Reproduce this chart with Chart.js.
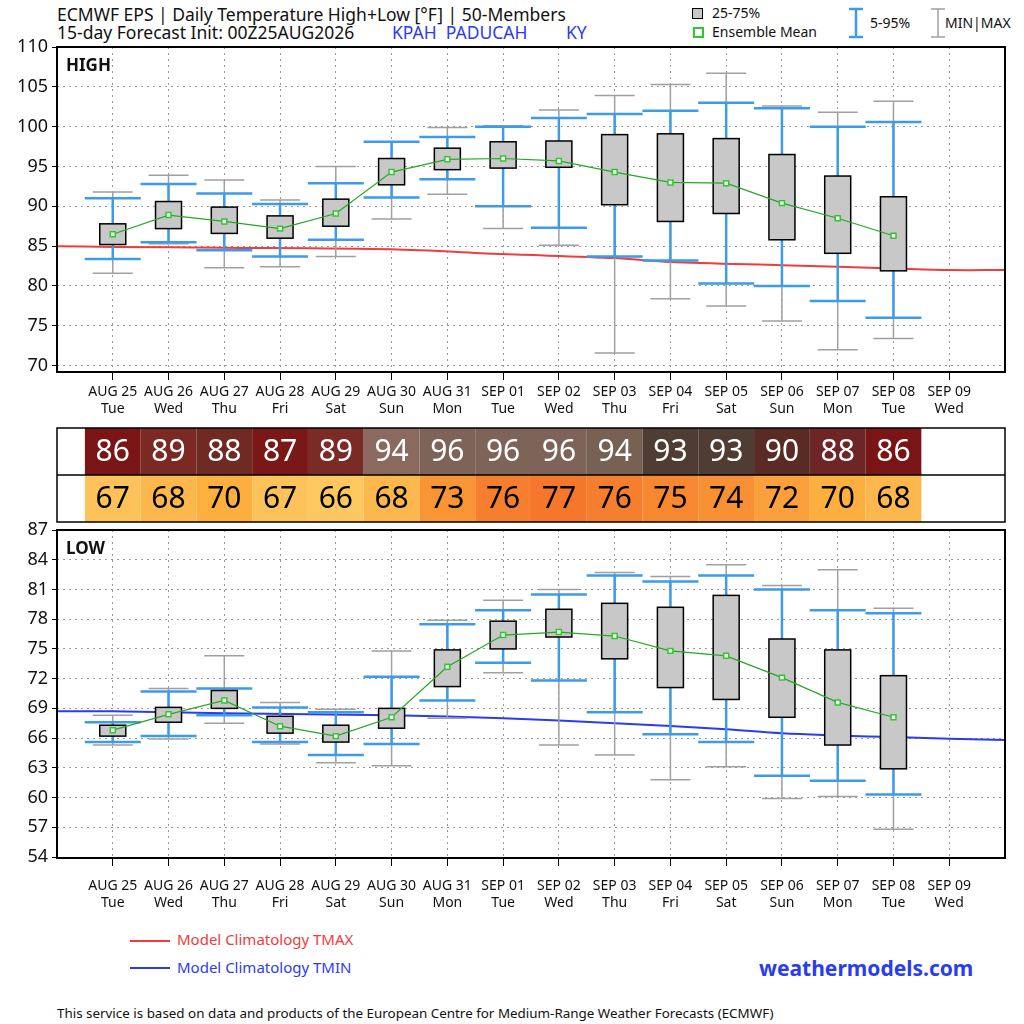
<!DOCTYPE html>
<html><head><meta charset="utf-8">
<script src="https://cdn.jsdelivr.net/npm/chart.js@4.4.1/dist/chart.umd.min.js"></script>
<style>
body{margin:0;background:#fff;font-family:"Noto Sans",sans-serif;}
#wrap{position:relative;width:1024px;height:1024px;overflow:hidden;}
canvas{position:absolute;left:0;}
.t{position:absolute;white-space:nowrap;color:#111;}
</style></head><body><div id="wrap">
<div class="t" style="left:57px;top:2px;font-size:17.5px">ECMWF EPS | Daily Temperature High+Low [°F] | 50-Members</div>
<div class="t" style="left:57px;top:20px;font-size:17.5px">15-day Forecast Init: 00Z25AUG2026</div>
<div class="t" style="left:392px;top:20px;font-size:17.5px;color:#2a3cf0">KPAH&nbsp; PADUCAH</div>
<div class="t" style="left:566px;top:20px;font-size:17.5px;color:#2a3cf0">KY</div>
<div style="position:absolute;left:692px;top:8px;width:9px;height:9px;background:#c8c8c8;border:1.5px solid #000"></div>
<div class="t" style="left:712px;top:3px;font-size:14px">25-75%</div>
<div style="position:absolute;left:693px;top:27px;width:7px;height:7px;border:2px solid #2ec82e;background:#fff"></div>
<div class="t" style="left:712px;top:22px;font-size:14px">Ensemble Mean</div>
<div class="t" style="left:870px;top:13px;font-size:14px">5-95%</div>
<div class="t" style="left:945px;top:13px;font-size:14px">MIN|MAX</div>
<canvas id="icons" width="1024" height="45" style="top:0"></canvas>
<canvas id="high" width="1024" height="388" style="top:32px"></canvas>
<canvas id="mid" width="1024" height="100" style="top:425px"></canvas>
<canvas id="low" width="1024" height="400" style="top:515px"></canvas>
<div class="t" style="left:177px;top:929px;font-size:15px;color:#f03c3c">Model Climatology TMAX</div>
<div class="t" style="left:177px;top:957px;font-size:15px;color:#2a3cf0">Model Climatology TMIN</div>
<div style="position:absolute;left:130px;top:940px;width:40px;height:2px;background:#f03c3c"></div>
<div style="position:absolute;left:130px;top:967px;width:40px;height:2px;background:#2a3cf0"></div>
<div class="t" style="left:759px;top:954px;font-size:21px;font-weight:bold;color:#2a3cf0">weathermodels.com</div>
<div class="t" style="left:57px;top:1004px;font-size:13.4px">This service is based on data and products of the European Centre for Medium-Range Weather Forecasts (ECMWF)</div>
</div>
<script>
const dates = ["AUG 25","AUG 26","AUG 27","AUG 28","AUG 29","AUG 30","AUG 31","SEP 01","SEP 02","SEP 03","SEP 04","SEP 05","SEP 06","SEP 07","SEP 08","SEP 09"];
const days = ["Tue","Wed","Thu","Fri","Sat","Sun","Mon","Tue","Wed","Thu","Fri","Sat","Sun","Mon","Tue","Wed"];

const highMin  = [81.6,85.3,82.3,82.4,83.7,88.4,91.5,87.2,85.1,71.6,78.4,77.5,75.6,72.0,73.4];
const highP5   = [83.4,85.5,84.5,83.7,85.8,91.1,93.4,90.0,87.3,83.7,83.2,80.3,80.0,78.1,76.0];
const highQ1   = [85.2,87.2,86.6,86.0,87.5,92.7,94.6,94.8,94.9,90.2,88.1,89.1,85.8,84.1,81.9];
const highMean = [86.5,88.9,88.1,87.2,89.1,94.3,95.9,96.0,95.7,94.3,93.0,92.9,90.4,88.5,86.3];
const highQ3   = [87.8,90.6,89.9,88.8,90.9,96.0,97.3,98.1,98.2,99.0,99.1,98.5,96.5,93.8,91.2];
const highP95  = [91.0,92.8,91.6,90.3,92.9,98.1,98.7,100.0,101.1,101.6,102.0,103.0,102.3,100.0,100.6];
const highMax  = [91.8,93.9,93.3,90.8,95.0,98.1,99.9,100.1,102.1,103.9,105.3,106.7,102.6,101.8,103.2];
const climMaxX = [-1,0,2,5,7,9,10,12,14,15,16];
const climMax  = [85.0,84.9,84.8,84.6,84.0,83.5,83.0,82.6,82.2,82.0,82.0];

const lowMin  = [65.3,65.9,67.5,65.4,63.5,63.2,68.0,72.6,65.3,64.3,61.8,63.1,59.9,60.1,56.8];
const lowP5   = [65.6,66.2,68.3,65.6,64.3,65.4,69.8,73.6,71.8,68.6,66.4,65.6,62.2,61.7,60.3];
const lowQ1   = [66.2,67.6,69.0,66.5,65.6,67.0,71.2,75.0,76.2,74.0,71.1,69.9,68.1,65.3,62.9];
const lowMean = [66.8,68.4,69.8,67.2,66.2,68.1,73.2,76.4,76.7,76.3,74.8,74.3,72.1,69.6,68.1];
const lowQ3   = [67.3,69.1,70.8,68.2,67.3,69.0,74.9,77.8,79.0,79.6,79.2,80.4,76.0,74.9,72.3];
const lowP95  = [67.6,70.7,71.0,69.1,68.6,72.2,77.5,78.9,80.5,82.4,81.8,82.4,81.0,78.9,78.6];
const lowMax  = [68.3,71.0,74.3,69.6,68.9,74.8,77.9,79.9,81.0,82.7,82.3,83.5,81.4,83.0,79.1];
const climMinX = [-1,0,2,5,7,9,11,12,14,16];
const climMin  = [68.7,68.7,68.5,68.3,68.0,67.5,66.9,66.5,66.1,65.8];

const tableHigh = [86,89,88,87,89,94,96,96,96,94,93,93,90,88,86];
const tableLow  = [67,68,70,67,66,68,73,76,77,76,75,74,72,70,68];
const highColors = ["#7a1515","#7a2a22","#6f2a24","#7a1717","#7a2b26","#8a6a5e","#7d6358","#7d6358","#7d6358","#776152","#4f3c33","#4f3c33","#5a2a24","#6e2525","#7a1515"];
const lowColors  = ["#fdc35a","#fdb84d","#fdb03f","#fdc35a","#fdc860","#fdb84d","#f99535","#f57f2f","#f4772c","#f57f2f","#f7882f","#f99034","#fba03a","#fdb03f","#fdb84d"];

const FONT = "Noto Sans";

function boxPlugin(s){
  return {id:"boxes",
    afterDatasetDraw(chart,args){
      if(args.index!==1) return;
      const c=chart.ctx, x=chart.scales.x, y=chart.scales.y;
      c.save();
      for(let i=0;i<s.min.length;i++){
        const px=x.getPixelForValue(i);
        c.strokeStyle="#a0a0a0"; c.lineWidth=1.5;
        c.beginPath();
        c.moveTo(px,y.getPixelForValue(s.min[i])); c.lineTo(px,y.getPixelForValue(s.max[i]));
        for(const v of [s.min[i],s.max[i]]){const py=y.getPixelForValue(v);c.moveTo(px-20,py);c.lineTo(px+20,py);}
        c.stroke();
        c.strokeStyle="#3d9be8"; c.lineWidth=2.5;
        c.beginPath();
        c.moveTo(px,y.getPixelForValue(s.p5[i])); c.lineTo(px,y.getPixelForValue(s.p95[i]));
        for(const v of [s.p5[i],s.p95[i]]){const py=y.getPixelForValue(v);c.moveTo(px-28,py);c.lineTo(px+28,py);}
        c.stroke();
        const t=y.getPixelForValue(s.q3[i]), b=y.getPixelForValue(s.q1[i]);
        c.fillStyle="#c8c8c8"; c.fillRect(px-13,t,26,b-t);
        c.strokeStyle="#000"; c.lineWidth=1.5; c.strokeRect(px-13,t,26,b-t);
      }
      c.restore();
    },
    afterDraw(chart){
      const c=chart.ctx,a=chart.chartArea;
      c.save();c.strokeStyle="#000";c.lineWidth=2;c.strokeRect(a.left,a.top,a.right-a.left,a.bottom-a.top);
      c.fillStyle="#111";c.font="bold 17px "+FONT;c.fillText(s.label,a.left+9,a.top+24);
      c.restore();
    }};
}

function makePanel(id,s){
  new Chart(document.getElementById(id),{
    type:"line",
    data:{datasets:[
      {data:s.mean.map((v,i)=>({x:i,y:v})),borderColor:"#22aa22",borderWidth:1.2,pointStyle:"rect",pointRadius:3.5,
       pointBackgroundColor:"#fff",pointBorderColor:"#2ec82e",pointBorderWidth:1.5,tension:0},
      {data:s.climX.map((x,i)=>({x:x,y:s.clim[i]})),borderColor:s.climColor,borderWidth:2,pointRadius:0,tension:0.3}
    ]},
    options:{responsive:false,animation:false,
      layout:{padding:{top:s.padTop,right:19,left:0,bottom:0}},
      plugins:{legend:{display:false},tooltip:{enabled:false}},
      scales:{
        x:{type:"linear",min:-1,max:16,
          afterBuildTicks(ax){ax.ticks=dates.map((d,i)=>({value:i}));},
          afterFit(ax){ax.height=s.xh;},
          ticks:{color:"#111",font:{family:FONT,size:14},maxRotation:0,autoSkip:false,padding:s.xpad,
            callback:(v)=>[dates[v],days[v]]},
          grid:{color:"#999",tickColor:"#000",tickLength:8,tickBorderDash:[],lineWidth:1},
          border:{dash:[2,4],display:false}},
        y:{min:s.ymin,max:s.ymax,
          afterBuildTicks(ax){ax.ticks=s.yticks.map(v=>({value:v}));},
          afterFit(ax){ax.width=57;},
          ticks:{color:"#111",font:{family:FONT,size:18},padding:4},
          grid:{color:"#999",tickLength:5,tickColor:"#000",tickBorderDash:[]},
          border:{dash:[2,4],display:false}}
      }},
    plugins:[boxPlugin(s)]
  });
}

makePanel("high",{label:"HIGH",min:highMin,p5:highP5,q1:highQ1,mean:highMean,q3:highQ3,p95:highP95,max:highMax,
  climX:climMaxX,clim:climMax,climColor:"#f03c3c",ymin:69.2,ymax:110,yticks:[70,75,80,85,90,95,100,105,110],padTop:15,xh:48,xpad:4});
makePanel("low",{label:"LOW",min:lowMin,p5:lowP5,q1:lowQ1,mean:lowMean,q3:lowQ3,p95:lowP95,max:lowMax,
  climX:climMinX,clim:climMin,climColor:"#2a3cf0",ymin:53.9,ymax:87,yticks:[54,57,60,63,66,69,72,75,78,81,84,87],padTop:15,xh:57,xpad:12});

// value table
new Chart(document.getElementById("mid"),{
  type:"line",data:{datasets:[]},
  options:{responsive:false,animation:false,layout:{padding:{top:3,right:19,left:57,bottom:3}},
    plugins:{legend:{display:false}},
    scales:{x:{type:"linear",min:-1,max:16,display:false},y:{min:0,max:2,display:false}}},
  plugins:[{id:"table",afterDraw(chart){
    const c=chart.ctx,x=chart.scales.x,y=chart.scales.y,a=chart.chartArea;
    c.save();
    const rows=[[tableHigh,highColors,"#fff",2],[tableLow,lowColors,"#000",1]];
    for(const [vals,cols,tc,top] of rows){
      const t=y.getPixelForValue(top),b=y.getPixelForValue(top-1);
      vals.forEach((v,i)=>{
        const l=x.getPixelForValue(i-0.5),r=x.getPixelForValue(i+0.5);
        c.fillStyle=cols[i];c.fillRect(l,t,r-l,b-t);
        c.fillStyle=tc;c.font="30px "+FONT;c.textAlign="center";c.textBaseline="middle";
        c.fillText(String(v),(l+r)/2,(t+b)/2+1);
      });
    }
    c.strokeStyle="#000";c.lineWidth=1.5;
    c.strokeRect(a.left,a.top,a.right-a.left,a.bottom-a.top);
    c.beginPath();c.moveTo(a.left,y.getPixelForValue(1));c.lineTo(a.right,y.getPixelForValue(1));c.stroke();
    c.restore();
  }}]
});

// legend whisker icons
const ic=document.getElementById("icons").getContext("2d");
function whisker(x,color,w,lw){ic.strokeStyle=color;ic.lineWidth=lw;ic.beginPath();
  ic.moveTo(x-w,9);ic.lineTo(x+w,9);ic.moveTo(x-w,37);ic.lineTo(x+w,37);ic.moveTo(x,9);ic.lineTo(x,37);ic.stroke();}
whisker(856,"#3d9be8",7,2.5);
whisker(938,"#a0a0a0",7,1.5);
</script></body></html>
